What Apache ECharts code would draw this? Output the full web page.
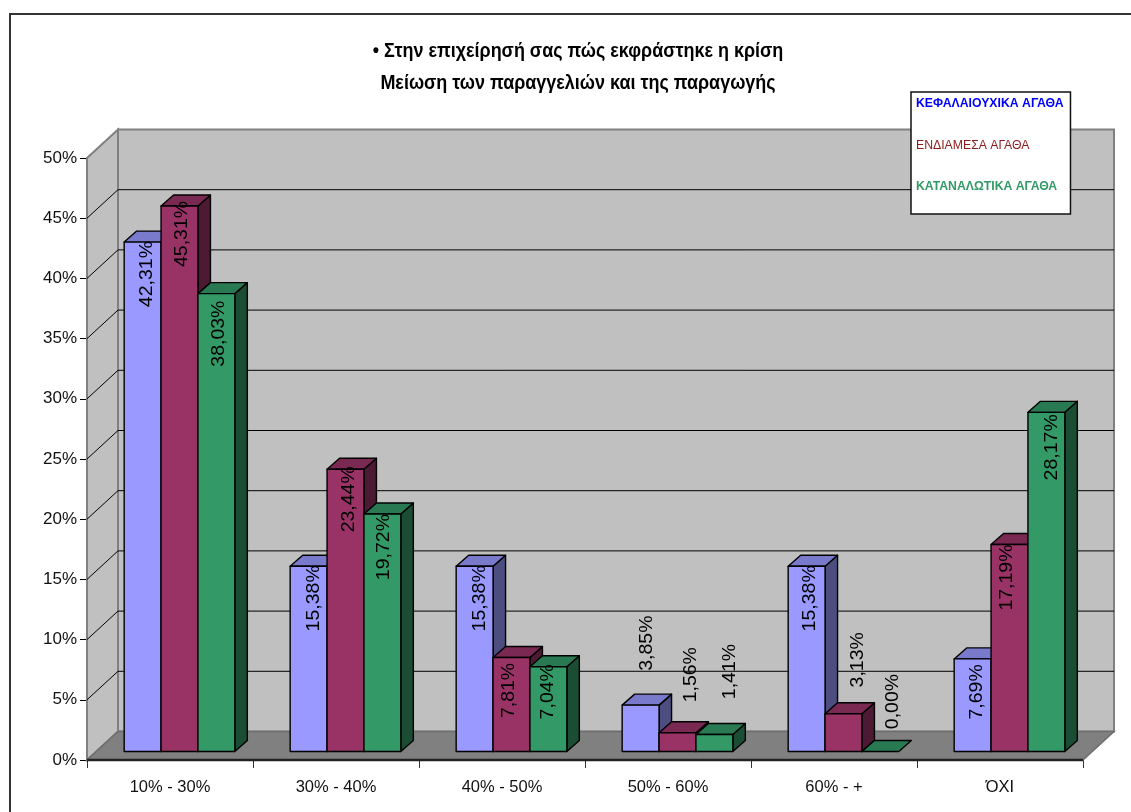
<!DOCTYPE html>
<html><head><meta charset="utf-8">
<style>html,body{margin:0;padding:0;background:#fff}#c{width:1131px;height:812px}</style>
<script src="https://cdn.jsdelivr.net/npm/echarts@6/dist/echarts.min.js"></script>
</head><body><div id="c"></div>
<script>
const chartTitle = '• Στην επιχείρησή σας πώς εκφράστηκε η κρίση\nΜείωση των παραγγελιών και της παραγωγής';
const categories = ['10% - 30%','30% - 40%','40% - 50%','50% - 60%','60% - +','ΌΧΙ'];
const capitalGoods = [42.31,15.38,15.38,3.85,15.38,7.69];
const intermediateGoods = [45.31,23.44,7.81,1.56,3.13,17.19];
const consumerGoods = [38.03,19.72,7.04,1.41,0.00,28.17];
const seriesNames = ['ΚΕΦΑΛΑΙΟΥΧΙΚΑ ΑΓΑΘΑ','ΕΝΔΙΑΜΕΣΑ ΑΓΑΘΑ','ΚΑΤΑΝΑΛΩΤΙΚΑ ΑΓΑΘΑ'];
const yTicks = [0,5,10,15,20,25,30,35,40,45,50];

// layout and style, kept apart from the values
const FONT = '"Liberation Sans",Arial,sans-serif';
const WALL = {dx:31, dy:-28.5};
const PLANE = {dx:9.5, dy:-8.5};
const BAR_DEPTH = {dx:12.5, dy:-11};
const faces = [
  {front:'#9999FF', top:'#7A7ACC', side:'#4D4D80'},
  {front:'#993366', top:'#7A2952', side:'#4D1A33'},
  {front:'#339966', top:'#297A52', side:'#1A4D33'}
];
const labelShiftX = [[4,5,5,6,3,4],[2,3,-3,13,14,-3],[3,2,0,16,13,6]];
const labelShiftY = [[32,32,32,-62,32,33],[28,30,33,-58,-54,33],[40,33,25,-63,-50,35]];

function barSeries(idx, values){
  return {
    type:'custom', name:seriesNames[idx], coordinateSystem:'cartesian2d', z:5+idx,
    encode:{x:0,y:1},
    data:values.map((v,i)=>[i,v]),
    renderItem(params, api){
      const cat = api.value(0), val = api.value(1);
      const bw = api.size([1,0])[0]/4.5;
      const top = api.coord([cat,val]), base = api.coord([cat,0]);
      const l = top[0]+PLANE.dx+(idx-1.5)*bw, r = l+bw;
      const t = top[1]+PLANE.dy, b = base[1]+PLANE.dy;
      const d = BAR_DEPTH;
      const stroke = {stroke:'#000', lineWidth:1.4, lineJoin:'round'};
      const poly = (pts, fill)=>({type:'polygon', shape:{points:pts}, style:{fill, ...stroke}});
      const children = [
        poly([[l,t],[r,t],[r+d.dx,t+d.dy],[l+d.dx,t+d.dy]], faces[idx].top)
      ];
      if (val>0){
        children.unshift(poly([[r,t],[r+d.dx,t+d.dy],[r+d.dx,b+d.dy],[r,b]], faces[idx].side));
        children.push(poly([[l,t],[r,t],[r,b],[l,b]], faces[idx].front));
      }
      children.push({
        type:'text', z2:50, rotation:Math.PI/2,
        x:(l+r)/2+labelShiftX[idx][cat], y:t+labelShiftY[idx][cat],
        scaleY:0.95,
        style:{text:val.toFixed(2).replace('.',',')+'%', fill:'#000',
          font:'19.5px '+FONT, align:'center', verticalAlign:'middle'}
      });
      return {type:'group', children};
    }
  };
}

const wallSeries = {
  type:'custom', coordinateSystem:'cartesian2d', z:1, silent:true, encode:{x:0,y:1},
  data:[[0,0]],
  renderItem(params){
    const c = params.coordSys, L=c.x, R=c.x+c.width, T=c.y, B=c.y+c.height, w=WALL;
    const edge = {stroke:'#808080', lineWidth:2};
    return {type:'group', children:[
      {type:'polygon', shape:{points:[[L+w.dx,T+w.dy],[R+w.dx,T+w.dy],[R+w.dx,B+w.dy],[L+w.dx,B+w.dy]]}, style:{fill:'#C0C0C0', ...edge}},
      {type:'polygon', shape:{points:[[L,T],[L+w.dx,T+w.dy],[L+w.dx,B+w.dy],[L,B]]}, style:{fill:'#C0C0C0', ...edge}},
      {type:'polygon', shape:{points:[[L,B],[L+w.dx,B+w.dy],[R+w.dx,B+w.dy],[R,B]]}, style:{fill:'#808080', stroke:'#6e6e6e', lineWidth:1.5}},
      {type:'line', shape:{x1:L,y1:B,x2:R,y2:B}, style:{stroke:'#222', lineWidth:2.5}}
    ]};
  }
};
const gridSeries = {
  type:'custom', coordinateSystem:'cartesian2d', z:2, silent:true, encode:{x:0,y:1},
  data:yTicks.filter(v=>v>0&&v<50).map(v=>[0,v]),
  renderItem(params, api){
    const c = params.coordSys, y = api.coord([0,api.value(1)])[1], w=WALL;
    const pts = [[c.x,y],[c.x+w.dx,y+w.dy],[c.x+c.width+w.dx,y+w.dy]];
    return {type:'polyline', shape:{points:pts}, style:{fill:null, stroke:'#000', lineWidth:1}};
  }
};

const chart = echarts.init(document.getElementById('c'));
chart.setOption({
  animation:false,
  backgroundColor:'#fff',
  graphic:[
    {type:'rect', z:-10, left:9, top:13, shape:{width:1300,height:1000}, style:{fill:'#fff', stroke:'#333', lineWidth:2}},
    {type:'text', z:30, x:578, y:35, scaleX:0.855,
      style:{text:chartTitle, font:'bold 21px '+FONT, lineHeight:32, fill:'#000', align:'center', verticalAlign:'top'}}
  ],
  legend:{
    orient:'vertical', left:911, top:92, icon:'none', itemWidth:0, itemHeight:14,
    padding:[5,7,21,0], itemGap:28.5, selectedMode:false,
    backgroundColor:'#fff', borderColor:'#111', borderWidth:1.5, z:20,
    textStyle:{fontFamily:FONT, fontSize:12.25, padding:0},
    data:[
      {name:seriesNames[0], textStyle:{color:'#0000FF', fontWeight:'bold'}},
      {name:seriesNames[1], textStyle:{color:'#8B1A1A'}},
      {name:seriesNames[2], textStyle:{color:'#339966', fontWeight:'bold'}}
    ]
  },
  grid:{left:87, right:48, top:158, bottom:52, containLabel:false},
  xAxis:{type:'category', data:categories, boundaryGap:true,
    axisLine:{show:true,lineStyle:{color:'#222',width:1}},
    axisTick:{show:true,length:8,alignWithLabel:false,lineStyle:{color:'#333',width:1}},
    axisLabel:{fontFamily:FONT,fontSize:16.5,color:'#111',margin:19,interval:0},
    splitLine:{show:false}},
  yAxis:{type:'value', min:0, max:50, interval:5,
    axisLine:{show:true,lineStyle:{color:'#000',width:1}},
    axisTick:{show:true,length:7,lineStyle:{color:'#000',width:1}},
    axisLabel:{fontFamily:FONT,fontSize:17,color:'#111',margin:10,padding:[4,0,0,0],formatter:'{value}%'},
    splitLine:{show:false}},
  series:[wallSeries,gridSeries,barSeries(0,capitalGoods),barSeries(1,intermediateGoods),barSeries(2,consumerGoods)]
});
</script></body></html>
